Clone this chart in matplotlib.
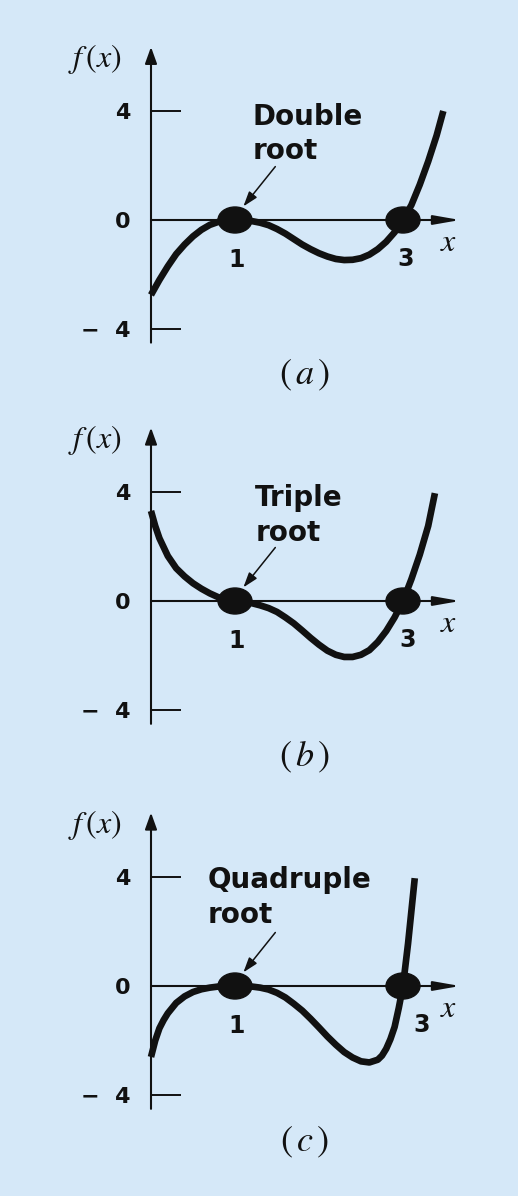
import matplotlib.pyplot as plt
from matplotlib.patches import Ellipse

# sampled values of the three example functions
xa = [0, 0.1, 0.2, 0.3, 0.4, 0.5, 0.6, 0.7, 0.8, 0.9, 1.0, 1.1, 1.2, 1.3, 1.4,
      1.5, 1.6, 1.7, 1.8, 1.9, 2.0, 2.1, 2.2, 2.3, 2.4, 2.5, 2.6, 2.7, 2.8, 2.9,
      3.0, 3.1, 3.2, 3.3, 3.4, 3.48]
ya = [-2.75, -2.2, -1.7, -1.25, -0.9, -0.6, -0.36, -0.18, -0.07, -0.015, 0,
      -0.01, -0.04, -0.1, -0.19, -0.33, -0.5, -0.7, -0.9, -1.07, -1.22, -1.34,
      -1.43, -1.47, -1.46, -1.4, -1.27, -1.07, -0.8, -0.45, 0, 0.55, 1.3, 2.15,
      3.1, 4.0]

xb = [0, 0.05, 0.1, 0.2, 0.3, 0.4, 0.5, 0.6, 0.7, 0.8, 0.9, 1.0, 1.1, 1.2, 1.3,
      1.4, 1.5, 1.6, 1.7, 1.8, 1.9, 2.0, 2.1, 2.2, 2.3, 2.4, 2.5, 2.6, 2.7, 2.8,
      2.9, 3.0, 3.1, 3.2, 3.3, 3.38]
yb = [3.3, 2.75, 2.3, 1.65, 1.2, 0.9, 0.65, 0.45, 0.28, 0.14, 0.05, 0, -0.03,
      -0.08, -0.16, -0.26, -0.4, -0.6, -0.82, -1.08, -1.35, -1.6, -1.82, -1.97,
      -2.05, -2.05, -1.97, -1.8, -1.5, -1.1, -0.6, 0, 0.8, 1.7, 2.75, 3.95]

xc = [0, 0.05, 0.1, 0.15, 0.2, 0.3, 0.4, 0.5, 0.6, 0.7, 0.8, 0.9, 1.0, 1.1, 1.2,
      1.3, 1.4, 1.5, 1.6, 1.7, 1.8, 1.9, 2.0, 2.1, 2.2, 2.3, 2.4, 2.5, 2.6, 2.7,
      2.75, 2.8, 2.85, 2.9, 2.95, 3.0, 3.06, 3.14]
yc = [-2.6, -2.0, -1.55, -1.25, -1.0, -0.62, -0.38, -0.22, -0.12, -0.06, -0.02,
      -0.005, 0, -0.005, -0.02, -0.06, -0.13, -0.25, -0.42, -0.65, -0.9, -1.2,
      -1.52, -1.85, -2.15, -2.42, -2.62, -2.76, -2.8, -2.7, -2.55, -2.3, -1.95,
      -1.5, -0.8, 0, 1.55, 3.95]

roots = [1, 3]
ytick_vals = [-4, 0, 4]
ytick_text = ['\u2212  4', '0', '4']
root_names = ['Double\nroot', 'Triple\nroot', 'Quadruple\nroot']
tags = ['a', 'b', 'c']

curves = [(xa, ya), (xb, yb), (xc, yc)]

# pixel layout of each panel: band top, band bottom, zero line, px per unit
W, H = 518, 1196
x0_px, xunit = 151, 84
bands = [(0, 400, 220, 27.25), (400, 790, 601, 27.3), (790, 1196, 986, 27.3)]
name_pos = [(1.21, 4.3), (1.24, 4.27), (0.68, 4.38)]
three_pos = [3.03, 3.05, 3.22]

bg = '#d5e8f8'
ink = '#111111'

plt.rcParams['mathtext.fontset'] = 'stix'

fig = plt.figure(figsize=(W / 100, H / 100), dpi=100, facecolor=bg)

for i in range(3):
    top, bot, zero, yunit = bands[i]
    ax = fig.add_axes([0, 1 - bot / H, 1, (bot - top) / H])
    ax.patch.set_visible(False)
    ax.set_xlim(-x0_px / xunit, (W - x0_px) / xunit)
    ax.set_ylim((zero - bot) / yunit, (zero - top) / yunit)

    for s in ax.spines.values():
        s.set_visible(False)
    ax.spines['left'].set_position(('data', 0))

    # axes with arrow heads
    ax.annotate('', xy=(0, 6.35), xytext=(0, -4.5),
                arrowprops=dict(arrowstyle='-|>,head_length=1.0,head_width=0.36',
                                lw=1.5, color=ink, shrinkA=0, shrinkB=0,
                                mutation_scale=10))
    ax.annotate('', xy=(3.68, 0), xytext=(0, 0),
                arrowprops=dict(arrowstyle='-|>,head_length=1.6,head_width=0.28',
                                lw=1.5, color=ink, shrinkA=0, shrinkB=0,
                                mutation_scale=10))

    ax.set_xticks([])
    ax.set_yticks(ytick_vals)
    ax.set_yticklabels(ytick_text, fontsize=16, fontweight='bold',
                       family='DejaVu Sans', color=ink)
    ax.tick_params(axis='y', direction='in', length=21.6, width=1.4,
                   pad=15, color=ink)

    xs, ys = curves[i]
    ax.plot(xs, ys, color=ink, lw=4.8, solid_capstyle='butt',
            solid_joinstyle='round', zorder=3)

    for r in roots:
        ax.add_patch(Ellipse((r, 0), 34 / xunit, 26 / yunit, color=ink, zorder=4))

    ax.text(1.02, -1.47, '1', ha='center', va='center', fontsize=17,
            fontweight='bold', family='DejaVu Sans', color=ink)
    ax.text(three_pos[i], -1.42, '3', ha='center', va='center', fontsize=17,
            fontweight='bold', family='DejaVu Sans', color=ink)
    ax.text(3.54, -0.82, '$x$', ha='center', va='center', fontsize=23, color=ink)
    ax.text(-0.67, 5.9, r'$f\,(x)$', ha='center', va='center', fontsize=23,
            color=ink)

    nx, ny = name_pos[i]
    ax.text(nx, ny, root_names[i], ha='left', va='top', fontsize=20,
            fontweight='bold', family='DejaVu Sans', color=ink, linespacing=1.3)
    ax.annotate('', xy=(1.10, 0.5), xytext=(1.48, 1.96),
                arrowprops=dict(arrowstyle='-|>,head_length=0.9,head_width=0.3',
                                lw=1.1, color=ink, shrinkA=0, shrinkB=0,
                                mutation_scale=10))

    ax.text(1.83, -5.72, r'$(\,%s\,)$' % tags[i], ha='center', va='center',
            fontsize=26, color=ink)

fig.savefig('out.png', dpi=100, facecolor=bg)
